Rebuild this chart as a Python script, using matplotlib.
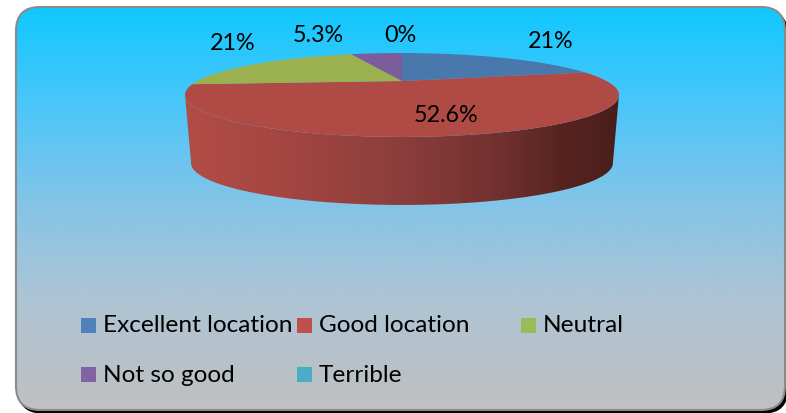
import numpy as np
import matplotlib
matplotlib.use('Agg')
import matplotlib.pyplot as plt
from matplotlib.patches import FancyBboxPatch, Polygon, Rectangle
from matplotlib.transforms import Transform

categories = ['Excellent location', 'Good location', 'Neutral', 'Not so good', 'Terrible']
shares = [21, 52.6, 21, 5.3, 0]
share_labels = ['21%', '52.6%', '21%', '5.3%', '0%']
top_colors = ['#4878ac', '#b04a45', '#9bb04f', '#7d5c9c', '#4bacc6']
legend_colors = ['#4f81bd', '#c0504d', '#9bbb59', '#8064a2', '#4bacc6']

# label and legend positions in pixels
label_xy = [(551, 41), (446, 114), (233, 43), (318, 35), (400, 35)]
legend_x = [81, 297, 521, 81, 297]
legend_y = [325, 325, 325, 374, 374]

# pie geometry in pixels, far edge is squeezed by the perspective
cx, cy = 402, 81
rx, ry = 204.6, 37.3
persp = 1 / 3
depth = 54


class Tilt(Transform):
    input_dims = 2
    output_dims = 2
    is_separable = False
    has_inverse = False

    def __init__(self, scale=1.0, drop=0.0):
        super().__init__()
        self.scale = scale
        self.drop = drop

    def transform_non_affine(self, values):
        values = np.asarray(values)
        w = 1 + persp * values[:, 1]
        x = cx + self.scale * rx * values[:, 0] / w
        y = cy + self.drop - ry * values[:, 1] / w
        return np.column_stack([x, y])


plt.rcParams['font.family'] = ['Lato', 'DejaVu Sans']
fig = plt.figure(figsize=(7.86, 4.13), dpi=100)
ax = fig.add_axes([0, 0, 1, 1])

# panel with shadow and vertical gradient
shadow = FancyBboxPatch((18, 10), 770, 403.5, boxstyle='round,pad=0,rounding_size=24',
                        fc='black', ec='none', zorder=1)
ax.add_patch(shadow)
panel = FancyBboxPatch((16, 7), 769, 403, boxstyle='round,pad=0,rounding_size=24',
                       fc='none', ec='#8a8a8a', lw=1.5, zorder=3)
ax.add_patch(panel)
rows = np.arange(7, 411)
panel_stops_y = [7, 100, 200, 300, 410]
panel_rgb = np.column_stack([
    np.interp(rows, panel_stops_y, [16, 72, 130, 174, 192]),
    np.interp(rows, panel_stops_y, [200, 198, 196, 196, 192]),
    np.interp(rows, panel_stops_y, [255, 250, 232, 212, 192]),
]) / 255
bg = ax.imshow(panel_rgb[:, None, :], extent=(16, 785, 410, 7), aspect='auto', zorder=2)
bg.set_clip_path(panel)

# side wall of the pie, hull of the top rim and the lower rim
t = np.linspace(0, 2 * np.pi, 361)
circle = np.column_stack([np.sin(t), np.cos(t)])
top_rim = Tilt().transform_non_affine(circle)
low_rim = Tilt(scale=0.972, drop=depth + 14).transform_non_affine(circle)
left = top_rim[:, 0].argmin()
right = top_rim[:, 0].argmax()
low_left = low_rim[:, 0].argmin()
low_right = low_rim[:, 0].argmax()
wall = np.vstack([top_rim[right:left + 1], low_rim[low_left:low_right - 1:-1]])
wall_patch = Polygon(wall, closed=True, fc='none', ec='none', zorder=4)
ax.add_patch(wall_patch)
cols = np.arange(185, 621)
wall_stops_x = [185, 280, 400, 500, 560, 620]
wall_rgb = np.column_stack([
    np.interp(cols, wall_stops_x, [178, 165, 140, 112, 88, 72]),
    np.interp(cols, wall_stops_x, [76, 70, 62, 48, 36, 30]),
    np.interp(cols, wall_stops_x, [70, 66, 60, 46, 32, 26]),
]) / 255
side = ax.imshow(wall_rgb[None, :, :], extent=(185, 621, 215, 60), aspect='auto', zorder=4)
side.set_clip_path(wall_patch)

# top face, pie wedges pushed through the perspective transform
wedges, _ = ax.pie(shares, colors=top_colors, startangle=90, counterclock=False, frame=True,
                   wedgeprops={'linewidth': 0})
tilt = Tilt()
for w in wedges:
    w.set_transform(tilt + ax.transData)
    w.set_zorder(5)

for (x, y), s in zip(label_xy, share_labels):
    ax.text(x, y + 1, s, fontsize=16.8, ha='center', va='center', color='black', zorder=6)

for name, col, x, y in zip(categories, legend_colors, legend_x, legend_y):
    ax.add_patch(Rectangle((x, y - 7.5), 15, 15, fc=col, ec='none', zorder=6))
    ax.text(x + 22, y + 1, name, fontsize=17.6, ha='left', va='center', color='black', zorder=6)

ax.set_xlim(0, 786)
ax.set_ylim(413, 0)
ax.set_aspect('auto')
ax.axis('off')
fig.savefig('out.png', dpi=100, facecolor='white')
